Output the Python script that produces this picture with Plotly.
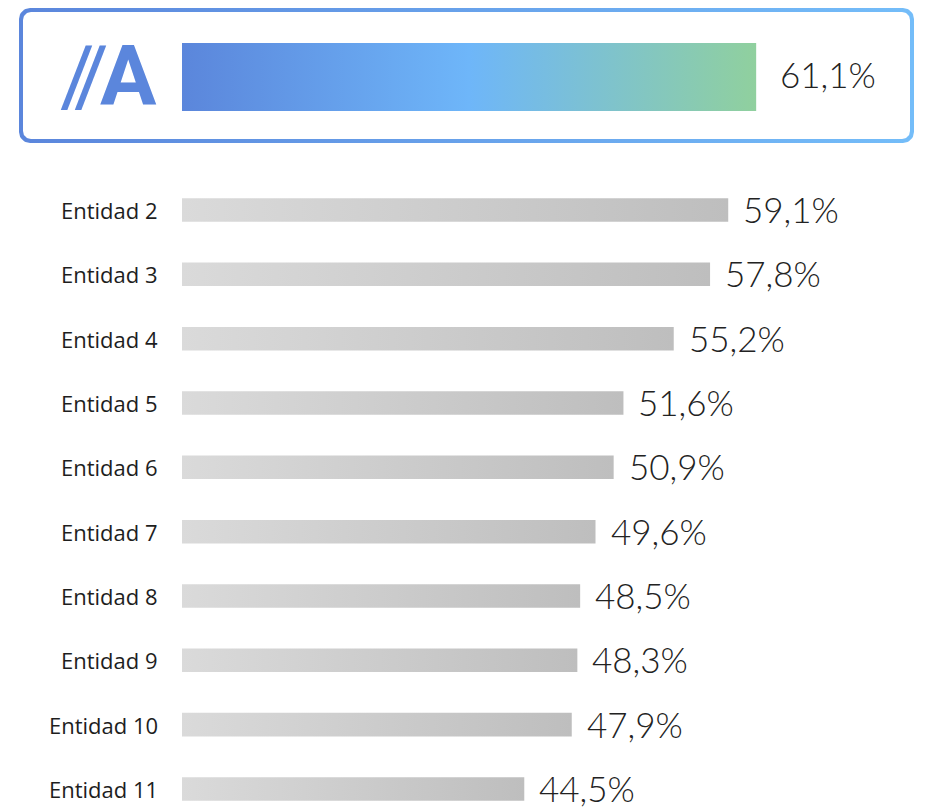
import numpy as np
import plotly.graph_objects as go

# ---- data ----
highlight_label = "//A"
highlight_value = 61.1
entities = ["Entidad 2", "Entidad 3", "Entidad 4", "Entidad 5", "Entidad 6",
            "Entidad 7", "Entidad 8", "Entidad 9", "Entidad 10", "Entidad 11"]
values = [59.1, 57.8, 55.2, 51.6, 50.9, 49.6, 48.5, 48.3, 47.9, 44.5]

W, H = 925, 807
X0 = 20.0                 # axis start value
PX_PER_UNIT = 13.97
X_LEFT_PX = 182
x_min = X0 - X_LEFT_PX / PX_PER_UNIT
x_max = x_min + W / PX_PER_UNIT

ROW = 64.33
Y_FIRST_PX = 210
y_top_val = 2 - Y_FIRST_PX / ROW
y_bot_val = 2 + (H - Y_FIRST_PX) / ROW

def fmt(v):
    return f"{v:.1f}".replace(".", ",") + "%"

fig = go.Figure()

# ---- decorative box (pixel axes x/y) ----
def rounded_rect(x0, y0, x1, y1, r, n=12):
    xs, ys = [], []
    corners = [(x1 - r, y0 + r, -90, 0), (x1 - r, y1 - r, 0, 90),
               (x0 + r, y1 - r, 90, 180), (x0 + r, y0 + r, 180, 270)]
    for cx, cy, a0, a1 in corners:
        t = np.radians(np.linspace(a0, a1, n))
        xs += list(cx + r * np.cos(t))
        ys += list(cy + r * np.sin(t))
    xs.append(xs[0]); ys.append(ys[0])
    return xs, ys

ox, oy = rounded_rect(19, 8, 914, 143, 11)
fig.add_trace(go.Scatter(x=ox, y=oy, fill="toself", mode="lines",
                         line=dict(width=0, color="rgba(0,0,0,0)"),
                         fillgradient=dict(type="horizontal",
                                           colorscale=[[0, "#5b86dc"], [1, "#74bdf9"]]),
                         hoverinfo="skip", showlegend=False, xaxis="x", yaxis="y"))
ix, iy = rounded_rect(23, 12, 910, 139, 8)
fig.add_trace(go.Scatter(x=ix, y=iy, fill="toself", mode="lines",
                         line=dict(width=0, color="rgba(0,0,0,0)"),
                         fillcolor="white",
                         hoverinfo="skip", showlegend=False, xaxis="x", yaxis="y"))

# ---- bars (data axes x2/y2) ----
def bar_trace(v, yc, half, cscale):
    return go.Scatter(
        x=[X0, v, v, X0, X0],
        y=[yc - half, yc - half, yc + half, yc + half, yc - half],
        fill="toself", mode="lines",
        line=dict(width=0, color="rgba(0,0,0,0)"),
        fillgradient=dict(type="horizontal", colorscale=cscale),
        hoverinfo="skip", showlegend=False, xaxis="x2", yaxis="y2")

top_y = 2 - 133 / ROW
fig.add_trace(bar_trace(highlight_value, top_y, 0.528,
                        [[0, "#5b86db"], [0.5, "#6eb6f9"], [1, "#90d09e"]]))

ypos = [2 + k for k in range(len(entities))]
for v, yc in zip(values, ypos):
    fig.add_trace(bar_trace(v, yc, 0.183, [[0, "#dadada"], [1, "#bebebe"]]))

annotations = []
for name, v, yc in zip(entities, values, ypos):
    annotations.append(dict(x=X0, y=yc, xref="x2", yref="y2", text=name,
                            showarrow=False, xanchor="right", yanchor="middle",
                            xshift=-22, font=dict(family="Open Sans", size=22, color="#1e1e1e")))
    annotations.append(dict(x=v, y=yc, xref="x2", yref="y2", text=fmt(v),
                            showarrow=False, xanchor="left", yanchor="middle",
                            xshift=13, yshift=1,
                            font=dict(family="Lato", size=35, color="#222222", weight=300)))

annotations.append(dict(x=highlight_value, y=top_y, xref="x2", yref="y2",
                        text=fmt(highlight_value), showarrow=False,
                        xanchor="left", yanchor="middle", xshift=22, yshift=3,
                        font=dict(family="Lato", size=35, color="#222222", weight=300)))

# logo "//A" built from its characters
slash_font = dict(family="Roboto", size=84, color="#5b86dc", weight=400)
letter_font = dict(family="Roboto", size=84, color="#5b86dc", weight=700)
slashes, letter = highlight_label[:2], highlight_label[2:]
for ch, cx in zip(slashes, [77, 91]):
    annotations.append(dict(x=cx, y=76, xref="x", yref="y", text=ch,
                            showarrow=False, xanchor="center", yanchor="middle",
                            font=slash_font))
annotations.append(dict(x=128, y=76, xref="x", yref="y", text=letter,
                        showarrow=False, xanchor="center", yanchor="middle",
                        font=letter_font))

fig.update_layout(
    width=W, height=H,
    margin=dict(l=0, r=0, t=0, b=0),
    plot_bgcolor="white", paper_bgcolor="white",
    xaxis=dict(range=[0, W], visible=False, fixedrange=True),
    yaxis=dict(range=[H, 0], visible=False, fixedrange=True),
    xaxis2=dict(range=[x_min, x_max], visible=False, overlaying="x", fixedrange=True),
    yaxis2=dict(range=[y_bot_val, y_top_val], visible=False, overlaying="y", fixedrange=True),
    annotations=annotations,
    showlegend=False,
)

fig.write_html("out.html", config={"displayModeBar": False},
               post_script="document.body.style.margin='0';")
